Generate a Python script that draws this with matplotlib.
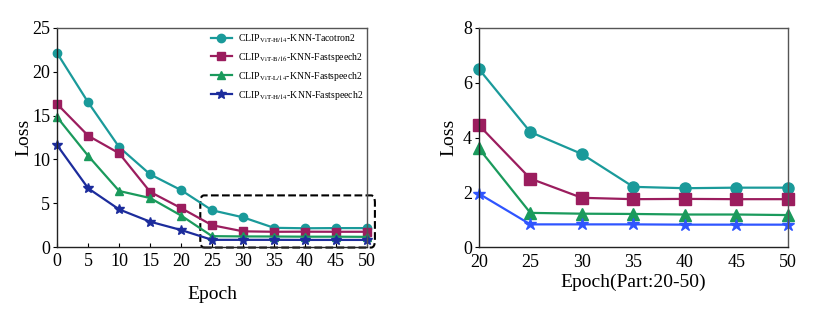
import numpy as np
import matplotlib.pyplot as plt
from matplotlib.patches import FancyBboxPatch

plt.rcParams['font.family'] = ['Liberation Serif', 'DejaVu Serif']
plt.rcParams['mathtext.fontset'] = 'stix'

epochs = [0, 5, 10, 15, 20, 25, 30, 35, 40, 45, 50]
loss_tacotron_h14 = [22.1, 16.5, 11.4, 8.3, 6.5, 4.2, 3.4, 2.2, 2.15, 2.17, 2.17]
loss_fs_b16 = [16.3, 12.7, 10.7, 6.3, 4.45, 2.5, 1.8, 1.75, 1.76, 1.75, 1.75]
loss_fs_l14 = [14.8, 10.4, 6.4, 5.6, 3.6, 1.25, 1.22, 1.21, 1.19, 1.19, 1.17]
loss_fs_h14 = [11.6, 6.7, 4.3, 2.9, 1.95, 0.83, 0.83, 0.83, 0.82, 0.82, 0.82]

labels = [r'CLIP$_{\mathrm{ViT\text{-}H/14}}$-KNN-Tacotron2',
          r'CLIP$_{\mathrm{ViT\text{-}B/16}}$-KNN-Fastspeech2',
          r'CLIP$_{\mathrm{ViT\text{-}L/14}}$-KNN-Fastspeech2',
          r'CLIP$_{\mathrm{ViT\text{-}H/14}}$-KNN-Fastspeech2']
series = [loss_tacotron_h14, loss_fs_b16, loss_fs_l14, loss_fs_h14]
markers = ['o', 's', '^', '*']
colors_left = ['#1a9a9a', '#9b1d5e', '#1a9a5c', '#1c2c9c']
colors_right = ['#1a9a9a', '#9b1d5e', '#1a9a5c', '#2f55ff']
msizes = [6, 6, 6, 7]

fig = plt.figure(figsize=(8.3, 3.14), dpi=100)
ax1 = fig.add_axes([0.069, 0.213, 0.373, 0.698])
ax2 = fig.add_axes([0.577, 0.213, 0.372, 0.698])

x = np.array(epochs)
for s, m, c, ms, lab in zip(series, markers, colors_left, msizes, labels):
    ax1.plot(x, s, marker=m, color=c, lw=1.6, ms=ms, label=lab, clip_on=False)

mask = x >= 20
for s, m, c, ms in zip(series, markers, colors_right, msizes):
    ax2.plot(x[mask], np.array(s)[mask], marker=m, color=c, lw=1.6, ms=ms + 2, clip_on=False)

ax1.set_xlim(0, 50)
ax1.set_ylim(0, 25)
ax1.set_xticks(range(0, 51, 5))
ax1.set_yticks(range(0, 26, 5))
ax1.set_xlabel('Epoch', fontsize=14, labelpad=12)
ax1.set_ylabel('Loss', fontsize=14, labelpad=0)

ax2.set_xlim(20, 50)
ax2.set_ylim(0, 8)
ax2.set_xticks(range(20, 51, 5))
ax2.set_yticks(range(0, 9, 2))
ax2.set_xlabel('Epoch(Part:20-50)', fontsize=14, labelpad=2)
ax2.set_ylabel('Loss', fontsize=14, labelpad=4)

for ax in (ax1, ax2):
    ax.tick_params(labelsize=13, width=0.8)
    ax.tick_params(axis='y', direction='out', length=3, pad=2)
    for sp in ax.spines.values():
        sp.set_color('#555555')
        sp.set_linewidth(1.0)
    ax.spines['left'].set_color('#222222')
    ax.spines['bottom'].set_color('#222222')
ax1.tick_params(axis='x', direction='in', length=3, pad=4)
ax2.tick_params(axis='x', length=0, pad=5)

ax1.legend(loc='upper right', frameon=False, fontsize=7, handlelength=2.2,
           handletextpad=0.6, labelspacing=0.6, bbox_to_anchor=(1.01, 1.01),
           borderaxespad=0.3)

box = FancyBboxPatch((23.1, -0.05), 28.2, 5.95, boxstyle='round,pad=0,rounding_size=0.6',
                     fill=False, ls='--', lw=1.5, ec='black', clip_on=False,
                     mutation_aspect=1.4)
ax1.add_patch(box)

fig.savefig('out.png', dpi=100)
